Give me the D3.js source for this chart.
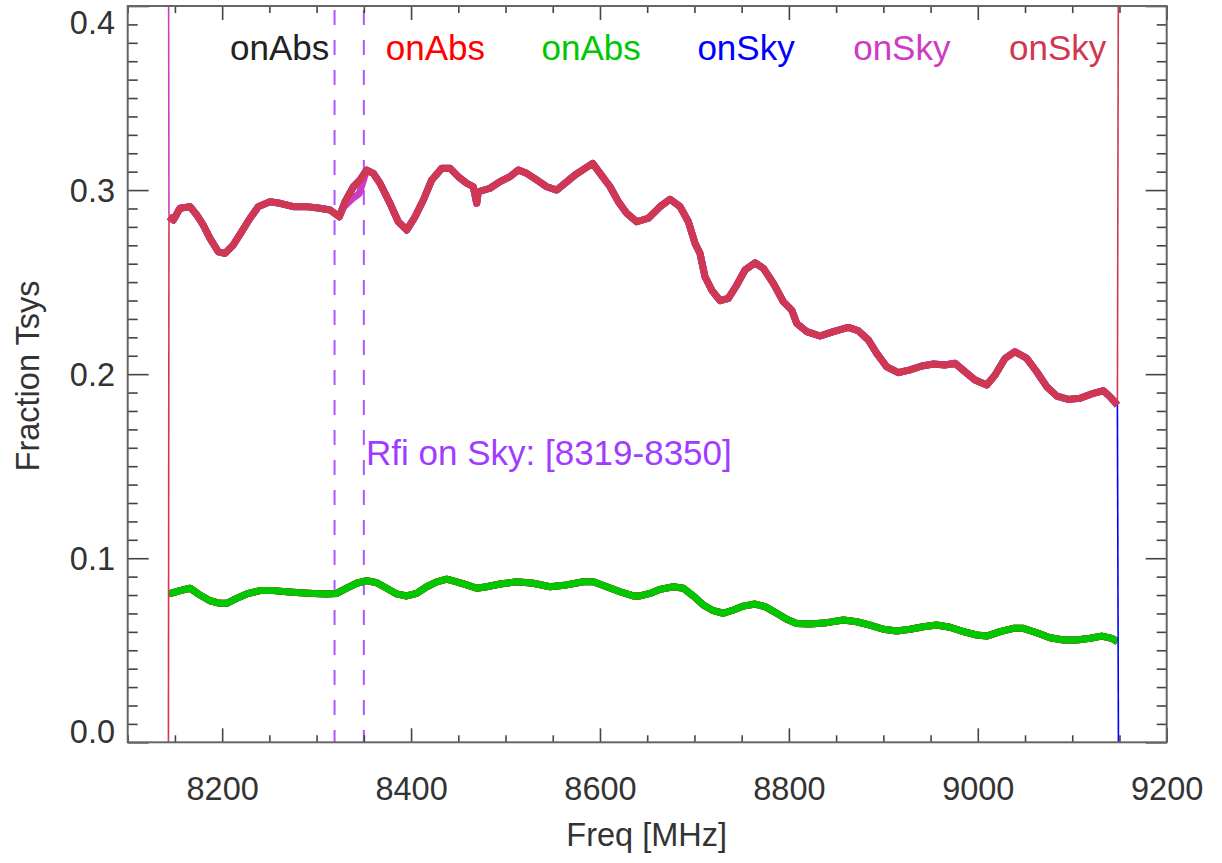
<!DOCTYPE html>
<html><head><meta charset="utf-8">
<script src="https://cdn.jsdelivr.net/npm/d3@7"></script>
<style>
body{margin:0;background:#fff}
svg{display:block}
text{font-family:"Liberation Sans",Arial,Helvetica,sans-serif}
</style>
</head><body>
<svg id="c" width="1222" height="863"></svg>
<script>
// ---- data ----
const skyFreq = [8143.7,8148.3,8155.4,8166.0,8173.1,8180.0,8187.1,8195.9,8203.0,8211.8,8220.7,8229.5,8238.3,8250.7,8261.3,8275.3,8289.5,8303.6,8314.2,8324.0,8330.1,8338.9,8346.0,8353.0,8360.0,8367.1,8377.7,8386.5,8395.4,8404.2,8413.0,8421.9,8432.5,8441.2,8450.0,8458.9,8465.9,8469.5,8471.2,8483.6,8494.2,8504.8,8513.6,8522.4,8533.0,8543.6,8554.2,8563.0,8573.6,8584.2,8592.3,8600.1,8610.7,8619.4,8628.3,8638.9,8651.2,8663.6,8674.2,8684.8,8693.6,8700.6,8705.9,8711.2,8718.3,8727.1,8735.9,8744.8,8753.6,8764.2,8773.0,8783.5,8794.1,8803.0,8808.3,8818.9,8833.0,8847.1,8862.9,8873.5,8884.1,8893.0,8903.6,8915.9,8928.3,8940.7,8953.0,8965.3,8975.9,8986.5,8997.1,9009.5,9018.3,9028.9,9039.4,9051.8,9062.4,9073.0,9083.6,9095.9,9108.3,9122.4,9133.0,9140.0,9147.8];
const skyVal = [0.2855,0.2837,0.2901,0.2910,0.2865,0.2810,0.2738,0.2665,0.2656,0.2702,0.2774,0.2847,0.2910,0.2937,0.2928,0.2910,0.2910,0.2901,0.2892,0.2855,0.2937,0.3018,0.3055,0.3109,0.3091,0.3037,0.2928,0.2828,0.2783,0.2855,0.2946,0.3055,0.3118,0.3118,0.3073,0.3037,0.3018,0.2928,0.2991,0.3010,0.3046,0.3073,0.3109,0.3091,0.3055,0.3018,0.3000,0.3037,0.3082,0.3118,0.3145,0.3091,0.3018,0.2937,0.2874,0.2828,0.2847,0.2910,0.2950,0.2910,0.2828,0.2711,0.2656,0.2529,0.2457,0.2399,0.2412,0.2484,0.2566,0.2605,0.2575,0.2494,0.2394,0.2348,0.2276,0.2231,0.2207,0.2231,0.2254,0.2236,0.2186,0.2113,0.2040,0.2008,0.2023,0.2044,0.2055,0.2050,0.2059,0.2013,0.1968,0.1941,0.1995,0.2086,0.2122,0.2086,0.2013,0.1932,0.1881,0.1863,0.1869,0.1896,0.1910,0.1877,0.1832];
// magenta onSky deviates inside the RFI window
const rfiFreq = [8329.0,8337.2,8345.2];
const rfiVal  = [0.2910,0.2950,0.2982];
const absFreq = [8143.7,8155.4,8166.0,8176.5,8187.1,8197.7,8204.8,8215.4,8226.0,8240.1,8254.2,8268.3,8282.4,8296.5,8310.7,8321.3,8331.9,8342.5,8353.0,8363.6,8374.2,8384.8,8395.4,8406.0,8416.6,8427.2,8437.8,8448.3,8458.9,8469.5,8480.1,8494.2,8511.9,8529.4,8547.1,8564.8,8582.4,8593.0,8607.1,8621.2,8635.3,8642.4,8653.0,8663.6,8677.7,8688.3,8698.8,8709.4,8720.0,8730.6,8741.2,8751.8,8764.2,8774.8,8787.1,8797.7,8808.3,8822.4,8840.1,8857.7,8871.8,8885.9,8900.0,8914.2,8928.3,8942.4,8956.5,8970.6,8984.7,8998.9,9009.5,9023.6,9037.7,9048.2,9062.4,9076.5,9090.6,9104.8,9118.9,9131.2,9141.8,9147.8];
const absVal = [0.0806,0.0824,0.0837,0.0800,0.0769,0.0755,0.0755,0.0782,0.0806,0.0824,0.0824,0.0818,0.0813,0.0809,0.0806,0.0809,0.0837,0.0864,0.0878,0.0867,0.0837,0.0806,0.0795,0.0809,0.0845,0.0872,0.0886,0.0872,0.0855,0.0837,0.0845,0.0860,0.0872,0.0864,0.0845,0.0855,0.0872,0.0872,0.0845,0.0818,0.0795,0.0795,0.0809,0.0831,0.0845,0.0837,0.0795,0.0746,0.0715,0.0701,0.0719,0.0740,0.0751,0.0737,0.0701,0.0668,0.0646,0.0643,0.0650,0.0664,0.0655,0.0637,0.0614,0.0605,0.0614,0.0628,0.0637,0.0625,0.0601,0.0583,0.0577,0.0601,0.0619,0.0619,0.0595,0.0568,0.0556,0.0556,0.0565,0.0577,0.0565,0.0547];
// first / last channel (off-scale values make the vertical edge lines)
const edgeFreq = [8143.0, 9149.2];
const seriesNames  = ["onAbs","onAbs","onAbs","onSky","onSky","onSky"];
const seriesColors = ["#111111","#ff0000","#00c800","#0000ff","#cc3cc4","#d0384f"];
const seriesStartVal = [null,null,null,null,0.5,-0.05];
const seriesEndVal   = [null,null,null,-0.05,null,0.5];
const rfiRange = [8319, 8350];
const rfiLabel = "Rfi on Sky: [8319-8350]";
const xTicks = [8200,8400,8600,8800,9000,9200];
const yTicks = [0.0,0.1,0.2,0.3,0.4];
const xLabel = "Freq [MHz]";
const yLabel = "Fraction Tsys";

// ---- layout ----
const L = 127.7, R = 1166.7, T = 6, B = 742.3;
const svg = d3.select("#c");
const x = d3.scaleLinear().domain([8100, 9200]).range([L, R]);
const y = d3.scaleLinear().domain([0, 0.4]).range([B, T]);

svg.append("defs").append("clipPath").attr("id","clip")
  .append("rect").attr("x",L).attr("y",T).attr("width",R-L).attr("height",B-T);

function zipPts(f, v){ return f.map((d,i)=>[d, v[i]]); }
const skyPts = zipPts(skyFreq, skyVal);
const absPts = zipPts(absFreq, absVal);
const magPts = skyPts.filter(p => p[0] < 8326 || p[0] > 8349)
  .concat(zipPts(rfiFreq, rfiVal)).sort((a,b)=>a[0]-b[0]);
const basePts = [absPts, absPts, absPts, skyPts, magPts, skyPts];
const widths = [7, 7, 7, 7, 7, 6.9];

const line = d3.line().x(d=>x(d[0])).y(d=>y(d[1]));
const g = svg.append("g").attr("clip-path","url(#clip)");

rfiRange.forEach(f => {
  g.append("line").attr("x1",x(f)).attr("x2",x(f)).attr("y1",T).attr("y2",B)
    .attr("stroke","#ad55ff").attr("stroke-width",2).attr("stroke-dasharray","15,15")
    .attr("stroke-dashoffset",-4);
});

basePts.forEach((pts, i) => {
  if (seriesStartVal[i] !== null) {
    g.append("path").attr("d", line([[edgeFreq[0], seriesStartVal[i]], pts[0]]))
      .attr("fill","none").attr("stroke",seriesColors[i]).attr("stroke-width",1.6);
  }
  if (seriesEndVal[i] !== null) {
    g.append("path").attr("d", line([pts[pts.length-1], [edgeFreq[1], seriesEndVal[i]]]))
      .attr("fill","none").attr("stroke",seriesColors[i]).attr("stroke-width",1.6);
  }
  g.append("path").attr("d", line(pts))
    .attr("fill","none").attr("stroke",seriesColors[i])
    .attr("stroke-width",widths[i]).attr("stroke-linejoin","round");
});

const tickCol = "#444";
const xMinor = d3.range(8100, 9201, 50).filter(v => v % 200 !== 0);
const yMinor = d3.range(1, 40).map(v => v/100).filter(v => Math.round(v*100) % 10 !== 0);

function styleAxis(sel){
  sel.select(".domain").remove();
  sel.selectAll(".tick line").attr("stroke",tickCol).attr("stroke-width",1.6);
  sel.selectAll("text").attr("fill","#333").style("font-size","32.5px")
    .style("font-family",'"Liberation Sans",Arial,sans-serif');
}

svg.append("g").attr("transform",`translate(0,${B})`)
  .call(d3.axisBottom(x).tickValues(xMinor).tickSize(-7).tickFormat("")).call(styleAxis);
svg.append("g").attr("transform",`translate(0,${B})`)
  .call(d3.axisBottom(x).tickValues(xTicks).tickSize(-14).tickPadding(34.6).tickFormat(d3.format("d")))
  .call(styleAxis);
svg.append("g").attr("transform",`translate(0,${T})`)
  .call(d3.axisTop(x).tickValues(xMinor).tickSize(-7).tickFormat("")).call(styleAxis);
svg.append("g").attr("transform",`translate(0,${T})`)
  .call(d3.axisTop(x).tickValues(xTicks).tickSize(-14).tickFormat("")).call(styleAxis);
svg.append("g").attr("transform",`translate(${L},0)`)
  .call(d3.axisLeft(y).tickValues(yMinor).tickSize(-10).tickFormat("")).call(styleAxis);
const yl = svg.append("g").attr("transform",`translate(${L},0)`)
  .call(d3.axisLeft(y).tickValues(yTicks).tickSize(-21).tickPadding(12.7).tickFormat(d3.format(".1f")))
  .call(styleAxis);
yl.selectAll(".tick text").attr("dy", d => d === 0 ? "-0.0em" : (d === 0.4 ? "0.85em" : "0.34em"));
svg.append("g").attr("transform",`translate(${R},0)`)
  .call(d3.axisRight(y).tickValues(yMinor).tickSize(-10).tickFormat("")).call(styleAxis);
svg.append("g").attr("transform",`translate(${R},0)`)
  .call(d3.axisRight(y).tickValues(yTicks).tickSize(-21).tickFormat("")).call(styleAxis);

svg.append("rect").attr("x",L).attr("y",T).attr("width",R-L).attr("height",B-T)
  .attr("fill","none").attr("stroke","#666").attr("stroke-width",2);

svg.append("text").attr("x",(L+R)/2 - 0.5).attr("y",846).attr("text-anchor","middle")
  .attr("fill","#333").style("font-size","32.5px").text(xLabel);
svg.append("text").attr("transform","translate(38.5,376) rotate(-90)").attr("text-anchor","middle")
  .attr("fill","#333").style("font-size","32.5px").text(yLabel);

seriesNames.forEach((n, i) => {
  svg.append("text").attr("x", 230 + i*155.8).attr("y", 60)
    .attr("fill", i === 0 ? "#222" : seriesColors[i]).style("font-size","35px").text(n);
});

svg.append("text").attr("x",366).attr("y",465).attr("fill","#a03cff")
  .style("font-size","35px").text(rfiLabel);
</script>
</body></html>
